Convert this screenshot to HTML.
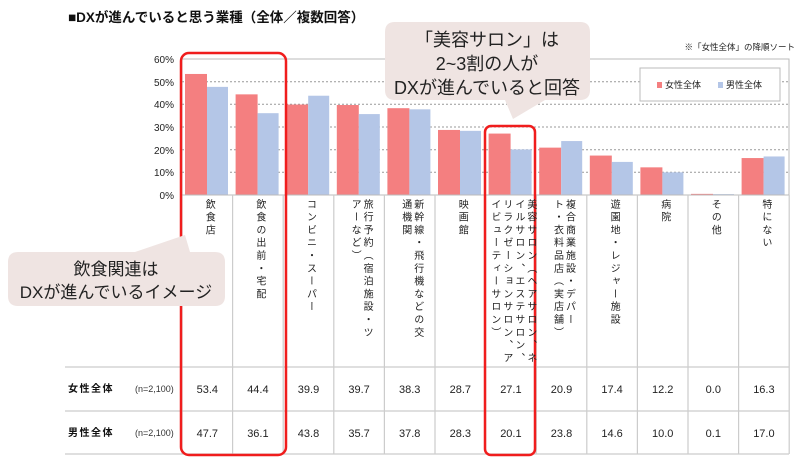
<!DOCTYPE html>
<html><head><meta charset="utf-8"><style>
body{margin:0;background:#fff;width:812px;height:457px;overflow:hidden;position:relative;font-family:"Liberation Sans","Noto Sans CJK JP",sans-serif;}
.lbl{position:absolute;top:199px;writing-mode:vertical-rl;font-size:10px;line-height:12px;letter-spacing:2.8px;color:#222;white-space:nowrap;transform:translateX(-50%);}
</style></head><body>
<svg width="812" height="457" style="position:absolute;left:0;top:0" font-family="Liberation Sans, Noto Sans CJK JP, sans-serif">
<text x="68" y="22" font-size="13.5" font-weight="bold" fill="#111">■DXが進んでいると思う業種（全体／複数回答）</text>
<text x="795" y="50" font-size="8.5" text-anchor="end" fill="#222">※「女性全体」の降順ソート</text>
<g stroke="#999" stroke-dasharray="2,2" stroke-width="1">
<line x1="182" x2="789" y1="59" y2="59"/><line x1="182" x2="789" y1="81.7" y2="81.7"/><line x1="182" x2="789" y1="104.3" y2="104.3"/><line x1="182" x2="789" y1="127" y2="127"/><line x1="182" x2="789" y1="149.7" y2="149.7"/><line x1="182" x2="789" y1="172.3" y2="172.3"/>
</g>
<g font-size="10" fill="#222" text-anchor="end">
<text x="174" y="63">60%</text><text x="174" y="86">50%</text><text x="174" y="108">40%</text><text x="174" y="131">30%</text><text x="174" y="154">20%</text><text x="174" y="176">10%</text><text x="174" y="199">0%</text>
</g>
<g id="bars"></g>
<rect x="182" y="59" width="607" height="136" fill="none" stroke="#bbb"/>
<g stroke="#ccc" stroke-width="1.2">
<line x1="65" x2="789" y1="367" y2="367"/><line x1="65" x2="789" y1="411" y2="411"/><line x1="65" x2="789" y1="454" y2="454"/>
</g>
<g id="vlines" stroke="#ccc" stroke-width="1.2"></g>
<text x="68" y="392" font-size="10" font-weight="bold" fill="#111" letter-spacing="1.5">女性全体</text>
<text x="68" y="436" font-size="10" font-weight="bold" fill="#111" letter-spacing="1.5">男性全体</text>
<text x="135" y="392" font-size="9" fill="#333">(n=2,100)</text>
<text x="135" y="436" font-size="9" fill="#333">(n=2,100)</text>
<g id="nums" font-size="11" fill="#222" text-anchor="middle"></g>
<rect x="640" y="68" width="140" height="33" fill="#fff" stroke="#bbb"/>
<rect x="657" y="82" width="5" height="6" fill="#f47f80"/><text x="665" y="88" font-size="9" fill="#222">女性全体</text>
<rect x="718" y="82" width="5" height="6" fill="#b4c6e7"/><text x="726" y="88" font-size="9" fill="#222">男性全体</text>
<rect x="181" y="53" width="105" height="402" rx="8" fill="none" stroke="#f01d1d" stroke-width="2.5"/>
<rect x="485" y="126" width="50" height="329" rx="6" fill="none" stroke="#f01d1d" stroke-width="2.5"/>
<path d="M18 252 H135 L185 235 L190 252 H215 Q225 252 225 262 V296 Q225 306 215 306 H18 Q8 306 8 296 V262 Q8 252 18 252 Z" fill="#efe4e2"/>
<text x="116" y="275" font-size="17" text-anchor="middle" fill="#222">飲食関連は</text>
<text x="116" y="298" font-size="17" text-anchor="middle" fill="#222">DXが進んでいるイメージ</text>
<path d="M395 22 H580 Q590 22 590 32 V90 Q590 100 580 100 H545 L513 119 L505 100 H395 Q385 100 385 90 V32 Q385 22 395 22 Z" fill="#efe4e2"/>
<text x="487" y="46" font-size="18" text-anchor="middle" fill="#222">「美容サロン」は</text>
<text x="487" y="70" font-size="18" text-anchor="middle" fill="#222">2~3割の人が</text>
<text x="487" y="94" font-size="18" text-anchor="middle" fill="#222">DXが進んでいると回答</text>
</svg>
<div id="labels"></div>
<script>
var F=[53.4,44.4,39.9,39.7,38.3,28.7,27.1,20.9,17.4,12.2,0.0,16.3],M=[47.7,36.1,43.8,35.7,37.8,28.3,20.1,23.8,14.6,10.0,0.1,17.0];
var L=[["飲食店"],["飲食の出前・宅配"],["コンビニ・スーパー"],["旅行予約（宿泊施設・ツ","アーなど）"],["新幹線・飛行機などの交","通機関"],["映画館"],["美容サロン（ヘアサロン、ネ","イルサロン、エステサロン、","リラクゼーションサロン、ア","イビューティーサロン）"],["複合商業施設・デパー","ト・衣料品店（実店舗）"],["遊園地・レジャー施設"],["病院"],["その他"],["特にない"]];
var ns="http://www.w3.org/2000/svg",b=document.getElementById("bars"),v=document.getElementById("vlines"),n=document.getElementById("nums"),lab=document.getElementById("labels");
var W=50.6,x0=182,k=136/60;
function el(t,a,p,txt){var e=document.createElementNS(ns,t);for(var q in a)e.setAttribute(q,a[q]);if(txt)e.textContent=txt;p.appendChild(e);}
for(var i=0;i<12;i++){var x=x0+i*W;var f=Math.max(F[i],0.5),m=Math.max(M[i],0.4);
el("rect",{x:x+3,y:195-f*k,width:22,height:f*k,fill:"#f47f80"},b);
el("rect",{x:x+25,y:195-m*k,width:21,height:m*k,fill:"#b4c6e7"},b);
el("line",{x1:x+W,x2:x+W,y1:195,y2:454},v);
el("text",{x:x+W/2,y:393},n,F[i].toFixed(1));
el("text",{x:x+W/2,y:437},n,M[i].toFixed(1));
var d=document.createElement("div");d.className="lbl";d.style.left=(x+W/2+1)+"px";d.innerHTML=L[i].join("<br>");lab.appendChild(d);}
el("line",{x1:x0,x2:x0,y1:195,y2:454},v);
</script>
</body></html>
